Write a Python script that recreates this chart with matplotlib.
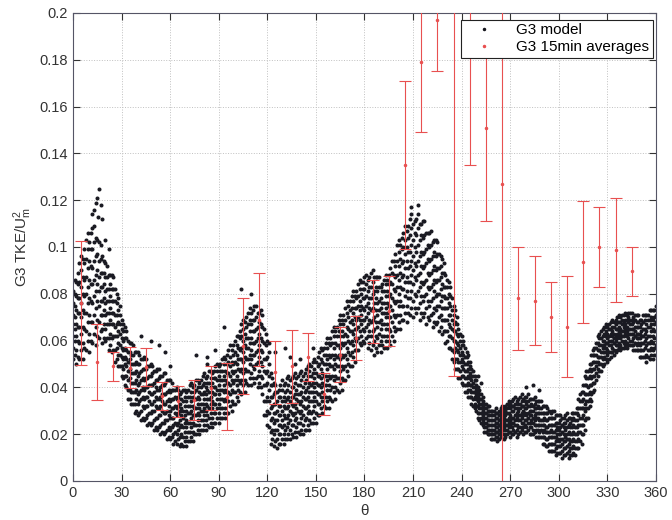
import matplotlib
matplotlib.use("Agg")
import matplotlib.pyplot as plt
from matplotlib.lines import Line2D
from matplotlib.ticker import FuncFormatter

plt.rcParams['font.family'] = ['Liberation Sans', 'DejaVu Sans']
plt.rcParams['mathtext.fontset'] = 'custom'
plt.rcParams['mathtext.rm'] = 'Liberation Sans'
plt.rcParams['mathtext.it'] = 'Liberation Sans'

# ---- G3 model: y values (in 1/1000) for each theta column 0..360 ----
model_theta = list(range(361))
model_cols = [
[52,57,62,67,71,76,81],[54,60,65,70,75,80,86],[50,56,62,67,73,79,85],[53,60,66,72,78,84,89],
[52,59,66,72,78,85,93],[56,63,70,76,83,90,96],[52,59,66,73,80,87,95],[57,65,72,79,86,93,99],
[56,64,72,80,87,95,103],[60,68,76,83,91,99,106],[55,63,71,78,86,94,102],[60,68,77,84,92,99,106],
[59,68,76,84,91,99,108],[63,71,79,86,94,102,109],[58,66,74,81,88,96,104],[62,69,77,84,90,97,103],
[61,68,75,81,87,94,102],[64,71,77,83,89,95,101],[59,65,71,77,83,89,96],[61,67,73,78,84,89,94],
[60,65,71,76,81,87,93],[61,67,72,77,82,87,92],[56,61,67,72,77,82,88],[58,63,69,74,79,84,88],
[55,61,67,72,77,82,88],[56,62,67,72,77,82,87],[51,56,62,66,71,77,82],[52,57,62,67,71,76,80],
[49,54,59,64,68,73,78],[49,54,58,63,67,71,75],[45,49,53,57,61,65,69],[44,48,52,56,60,64,67],
[41,45,50,53,57,61,66],[40,45,49,52,56,61,64],[35,39,43,47,51,55,60],[35,39,44,48,52,55,59],
[33,38,42,46,50,54,59],[33,38,42,46,50,54,58],[29,33,38,42,46,50,55],[30,35,39,43,47,51,55],
[28,33,37,41,45,50,55],[29,34,38,42,46,50,54],[26,30,35,39,43,47,52],[27,32,36,40,44,48,52],
[26,31,35,39,43,48,53],[27,32,36,40,44,48,52],[24,28,32,36,40,44,49],[25,29,34,38,41,45,49],
[24,29,33,37,41,45,50],[25,30,33,37,41,46,49],[22,26,30,34,38,42,47],[23,27,32,36,40,43,47],
[22,27,31,35,39,43,48],[23,28,31,35,39,44,48],[20,24,28,32,36,40,45],[21,25,30,34,37,41,45],
[20,25,29,33,37,41,46],[21,26,29,33,37,42,46],[18,22,26,30,34,38,43],[19,23,28,32,35,39,43],
[18,22,27,30,34,38,43],[19,23,27,31,35,39,42],[16,20,24,27,31,35,39],[17,21,25,29,32,36,39],
[16,20,24,28,31,35,40],[18,22,25,29,32,36,39],[15,19,23,26,30,33,37],[16,20,24,28,31,35,38],
[15,19,23,27,30,34,39],[17,21,25,28,32,36,39],[15,19,23,26,30,34,38],[17,21,25,29,32,36,39],
[17,21,25,29,32,36,41],[19,23,27,30,34,38,42],[17,21,25,28,32,36,40],[20,24,28,31,35,38,41],
[20,24,28,31,35,39,43],[22,26,29,33,36,40,43],[20,24,28,31,35,38,42],[22,26,30,33,37,40,43],
[22,26,30,33,37,41,45],[24,28,31,35,38,42,46],[22,26,30,33,37,40,44],[24,28,32,35,39,42,45],
[23,27,31,35,38,42,47],[25,29,33,36,40,44,47],[23,27,31,34,38,42,46],[25,29,33,37,40,44,47],
[25,29,33,37,40,44,49],[27,31,35,39,43,47,50],[25,29,33,37,41,45,49],[27,31,35,39,43,47,50],
[27,31,35,39,43,47,52],[29,34,38,41,45,50,53],[27,31,35,39,43,47,52],[29,34,38,42,46,50,54],
[29,34,38,42,46,51,56],[32,37,41,45,49,53,58],[30,34,39,43,47,51,56],[33,38,42,46,50,54,58],
[33,38,43,47,51,55,60],[36,41,45,50,54,58,62],[34,39,43,48,52,57,62],[38,42,47,52,56,61,64],
[37,43,48,52,57,62,67],[41,46,51,55,60,65,69],[38,43,48,53,58,63,68],[42,47,52,57,61,66,70],
[41,47,52,57,61,67,72],[44,50,54,59,64,69,74],[41,46,52,56,61,67,72],[44,49,54,59,64,69,73],
[42,48,54,59,64,69,75],[44,50,55,60,65,70,75],[40,45,51,56,61,66,72],[42,47,53,58,63,68,72],
[40,45,51,56,61,67,73],[37,44,49,55,60,66,71],[28,34,41,47,52,59,65],[28,34,41,46,52,58,63],
[24,30,36,42,47,53,60],[23,29,34,39,45,50,55],[16,21,26,31,36,41,46],[18,22,27,32,36,41,44],
[15,20,25,29,33,37,42],[17,22,26,29,33,38,41],[14,18,22,26,30,34,38],[16,20,24,28,32,36,39],
[16,20,24,28,32,36,41],[18,23,26,30,34,39,43],[16,20,24,28,32,36,41],[18,22,27,31,34,38,42],
[18,23,27,31,35,39,44],[20,25,28,32,36,41,45],[18,22,26,30,34,38,43],[20,24,29,33,36,40,44],
[19,24,28,32,36,40,45],[21,26,29,33,37,42,46],[19,23,27,31,35,39,44],[21,25,30,34,37,41,45],
[20,25,29,33,37,41,46],[22,27,30,34,38,43,47],[20,24,28,32,36,40,45],[22,26,31,35,38,42,46],
[22,27,31,35,39,43,48],[24,29,32,36,40,45,49],[22,26,30,34,38,42,47],[25,29,34,38,41,45,49],
[25,30,34,38,42,46,51],[27,32,36,40,44,48,52],[25,29,34,38,42,46,51],[28,33,37,41,45,49,53],
[28,33,37,41,45,50,55],[31,36,40,44,48,52,57],[29,34,38,42,46,51,56],[32,36,41,45,50,54,57],
[31,36,41,45,50,54,59],[34,39,43,48,52,57,61],[31,36,41,45,50,54,59],[35,39,44,49,53,58,61],
[34,40,45,49,54,59,64],[38,43,48,52,57,62,66],[35,40,45,50,54,59,64],[39,44,49,53,58,62,66],
[38,44,49,54,58,64,69],[42,47,52,57,62,67,71],[39,44,49,54,59,64,69],[43,48,53,58,62,67,71],
[43,49,54,59,63,69,74],[47,52,57,62,66,72,77],[45,50,55,60,65,70,75],[49,54,59,64,68,73,77],
[49,55,60,64,69,74,79],[53,58,63,67,72,77,81],[51,56,61,65,70,74,79],[56,60,65,69,74,78,81],
[56,61,66,70,75,79,84],[59,64,69,73,77,82,86],[58,62,67,71,75,80,85],[60,65,69,74,78,82,85],
[59,64,69,73,78,82,87],[61,66,70,75,79,84,88],[57,62,67,72,76,81,86],[59,64,69,74,78,83,87],
[56,62,68,73,78,83,89],[58,64,69,74,80,85,90],[54,60,65,70,76,81,87],[57,62,68,73,78,83,87],
[55,61,66,71,76,81,87],[58,63,68,73,77,83,87],[55,60,65,69,74,78,83],[58,62,67,72,76,81,84],
[57,62,67,72,76,81,86],[60,65,70,74,79,84,88],[57,62,67,72,76,81,86],[60,65,70,75,79,84,88],
[58,64,70,75,80,85,91],[62,68,73,78,84,89,94],[60,66,71,77,82,88,94],[64,70,76,81,87,92,97],
[65,71,77,83,88,94,101],[68,75,80,86,92,98,103],[65,71,77,83,89,95,101],[69,75,82,87,93,99,104],
[69,75,82,88,94,100,106],[72,79,85,91,97,103,109],[68,75,81,87,94,100,107],[72,78,85,91,98,104,109],
[71,78,85,92,98,105,112],[74,81,88,94,101,108,114],[70,77,84,90,96,103,110],[74,80,87,93,100,106,111],
[72,79,86,92,98,105,112],[74,81,88,94,101,108,114],[69,76,83,89,96,103,110],[72,79,85,92,98,105,110],
[70,77,84,91,97,104,111],[72,79,85,92,98,105,111],[67,74,80,86,93,99,106],[70,77,83,89,95,101,106],
[69,75,82,88,94,100,106],[71,77,83,89,95,101,107],[66,72,78,84,90,96,102],[68,74,81,86,92,98,103],
[67,73,79,85,90,96,103],[68,75,80,86,91,97,102],[64,70,75,80,86,91,97],[66,71,77,82,87,92,96],
[63,69,74,79,84,89,95],[64,69,74,79,83,89,93],[59,64,69,74,78,83,88],[60,64,69,74,78,83,86],
[57,62,67,71,76,80,85],[57,62,66,71,75,79,83],[52,56,61,65,69,73,78],[51,55,60,64,67,71,75],
[48,52,57,60,64,68,73],[48,52,56,59,63,67,70],[44,48,51,55,58,62,65],[44,47,51,54,57,60,63],
[42,45,49,52,55,58,62],[41,45,48,51,54,58,60],[38,41,44,47,50,53,57],[38,41,44,47,50,53,55],
[36,39,42,45,48,51,54],[36,39,41,44,46,49,51],[33,36,38,41,43,45,48],[32,35,38,40,42,45,47],
[31,33,36,38,40,43,45],[30,32,35,37,39,41,43],[27,29,32,34,36,38,40],[26,29,31,33,35,37,39],
[25,27,29,31,33,35,37],[24,26,28,30,32,34,36],[21,23,25,27,29,31,33],[21,23,25,27,29,31,33],
[20,22,24,26,28,30,32],[20,22,24,26,28,30,32],[18,20,22,24,26,28,30],[18,20,22,24,26,28,30],
[18,20,22,24,26,28,30],[19,21,23,25,27,29,31],[17,19,21,23,25,27,29],[18,20,22,24,26,28,30],
[19,21,23,25,27,29,31],[20,22,24,26,28,30,32],[18,20,23,25,27,29,31],[19,22,24,26,28,30,32],
[20,22,24,26,29,31,33],[21,23,25,27,29,32,34],[19,21,24,26,28,31,33],[20,23,25,27,30,32,34],
[20,22,25,27,30,32,35],[21,24,26,28,31,33,36],[19,22,24,27,29,31,34],[20,23,26,28,30,33,35],
[21,23,26,28,31,33,36],[22,25,27,29,32,34,37],[20,23,25,28,30,32,35],[21,24,26,29,31,34,36],
[21,23,26,28,31,33,36],[22,25,27,29,32,34,37],[20,23,25,28,30,32,35],[20,23,26,28,30,33,35],
[20,22,25,27,30,32,35],[21,24,26,28,31,33,36],[19,22,24,27,29,31,34],[19,22,24,27,29,32,34],
[19,21,24,26,29,31,34],[19,22,24,26,29,31,34],[16,19,21,24,26,29,32],[16,19,22,24,27,29,32],
[15,18,21,23,26,29,32],[15,18,21,23,26,29,31],[13,16,19,21,24,27,30],[13,16,19,22,24,27,29],
[13,16,19,21,24,27,30],[13,16,19,21,24,27,30],[11,14,17,19,22,25,28],[12,15,18,20,23,25,28],
[12,15,17,20,22,25,28],[12,15,18,20,23,26,28],[10,13,16,18,21,24,27],[11,14,17,20,23,25,27],
[11,14,17,19,22,25,28],[12,15,18,20,23,26,29],[10,13,16,18,21,24,27],[11,14,17,20,23,25,27],
[11,14,17,20,23,26,29],[12,15,18,21,24,27,29],[11,14,17,20,23,26,29],[14,17,20,23,26,29,31],
[14,18,21,24,28,31,35],[17,21,24,27,31,34,37],[16,20,24,27,31,34,38],[20,24,28,31,35,38,41],
[22,26,30,33,37,41,45],[27,31,34,37,41,44,47],[27,31,34,37,40,44,47],[32,35,38,41,45,48,50],
[34,37,41,44,47,50,54],[38,42,45,48,51,54,56],[39,42,45,48,51,54,57],[43,46,49,51,54,57,59],
[45,48,51,53,56,59,62],[47,50,53,56,58,61,63],[47,50,53,55,58,61,64],[49,52,55,57,60,62,65],
[50,53,55,58,60,63,66],[52,55,57,59,62,64,67],[51,54,56,59,61,63,66],[52,55,58,60,62,65,67],
[53,55,58,60,63,65,68],[55,57,60,62,64,66,69],[54,56,59,61,63,66,68],[55,58,60,62,65,67,69],
[56,58,61,63,65,68,70],[57,59,62,64,66,68,71],[56,58,61,63,65,68,70],[57,60,62,64,67,69,71],
[57,59,62,64,66,68,71],[58,60,63,65,67,69,72],[57,59,62,64,66,69,71],[58,61,63,65,68,70,72],
[58,60,63,65,67,69,72],[58,60,63,65,67,69,72],[56,58,61,63,65,68,70],[56,59,62,64,66,69,71],
[56,58,61,63,66,68,71],[56,59,61,63,66,68,71],[53,56,58,61,63,66,69],[53,56,59,62,64,67,69],
[53,56,59,62,65,68,71],[53,57,60,63,65,69,71],[51,54,58,61,64,67,71],[53,56,59,62,66,69,71],
[52,56,59,62,66,69,73],[54,57,60,64,67,70,73],[52,56,59,62,65,69,73],[54,57,61,64,67,70,73],
[54,58,61,64,68,71,75],
]

# sparse model points outside the main band
outlier_theta = [12, 13, 14, 15, 15.5, 16, 17, 18, 20, 22, 42, 48, 53, 57, 60,
                 76, 83, 82.5, 87.5, 93, 103.5, 110, 121, 125, 131, 134, 137, 140,
                 146, 148, 209, 213, 250, 252, 280, 284, 288]
outlier_val = [114, 116, 119, 121, 113, 125, 118, 112, 103, 99, 62, 60, 58, 55, 49,
               54, 50, 53, 56, 66, 82, 80, 59, 55, 57, 53, 50, 52,
               50, 57, 117, 118, 45, 42, 40, 41, 39]

# ---- G3 15min averages (mean and error half-width) ----
avg_theta = [5, 15, 25, 35, 45, 55, 65, 75, 85, 95, 105, 115, 125, 135, 145, 155, 165,
             175, 185, 195, 205, 215, 225, 235, 245, 255, 265, 275, 285, 295, 305,
             315, 325, 335, 345]
avg_val = [0.076, 0.051, 0.049, 0.0485, 0.0486, 0.0365, 0.034, 0.0345, 0.0397, 0.036,
           0.0575, 0.069, 0.0465, 0.049, 0.053, 0.037, 0.054, 0.061, 0.0725, 0.0725,
           0.135, 0.179, 0.197, 0.24, 0.22, 0.151, 0.127, 0.078, 0.077, 0.070, 0.066,
           0.0935, 0.0999, 0.0988, 0.0896]
avg_err = [0.0265, 0.0162, 0.0062, 0.0088, 0.0082, 0.006, 0.0067, 0.0085, 0.0093, 0.0143,
           0.0205, 0.020, 0.0135, 0.0155, 0.0104, 0.009, 0.0117, 0.0095, 0.0135, 0.015,
           0.036, 0.03, 0.022, 0.195, 0.085, 0.040, 0.128, 0.022, 0.019, 0.015, 0.0215,
           0.026, 0.0171, 0.0221, 0.0105]

xticks = list(range(0, 361, 30))
yticks = [0, 0.02, 0.04, 0.06, 0.08, 0.1, 0.12, 0.14, 0.16, 0.18, 0.2]

mx, my = [], []
for th, col in zip(model_theta, model_cols):
    for v in col:
        mx.append(th)
        my.append(v / 1000.0)
for th, v in zip(outlier_theta, outlier_val):
    mx.append(th)
    my.append(v / 1000.0)

fig = plt.figure(figsize=(6.72, 5.2), dpi=100)
ax = fig.add_axes([0.1086, 0.075, 0.8676, 0.9])

red = '#e85050'
ax.plot(mx, my, 'o', ms=2.9, mew=0, color='#1a1a22', zorder=2)
ax.errorbar(avg_theta, avg_val, yerr=avg_err, fmt='.', color=red, ms=3,
            ecolor=red, elinewidth=0.8, capsize=4, capthick=0.8, zorder=3)

ax.set_xlim(0, 360)
ax.set_ylim(0, 0.2)
ax.set_xticks(xticks)
ax.set_yticks(yticks)
ax.yaxis.set_major_formatter(FuncFormatter(lambda v, p: '%g' % round(v, 3)))
ax.grid(True, linestyle=':', color='#c0c0c0', linewidth=0.7)
ax.set_axisbelow(True)
ax.tick_params(direction='in', top=True, right=True, length=5, labelsize=10.5,
               colors='#333333')
for s in ax.spines.values():
    s.set_color('#555566')
    s.set_linewidth(0.8)

ax.set_xlabel(r'$\mathregular{\theta}$', fontsize=11, color='#333333', labelpad=2)
ax.set_ylabel(r'G3 TKE/U$_m^2$', fontsize=11, color='#333333', labelpad=4)

handles = [Line2D([], [], marker='.', ls='none', color='#15151c', ms=3),
           Line2D([], [], marker='.', ls='none', color=red, ms=3)]
leg = ax.legend(handles, ['G3 model', 'G3 15min averages'], loc='upper right',
                bbox_to_anchor=(0.994, 0.986), fontsize=11, fancybox=False,
                framealpha=1, edgecolor='#222222', borderpad=0.25,
                handletextpad=0.8, handlelength=2.5, labelspacing=0.2,
                borderaxespad=0)
leg.get_frame().set_linewidth(0.8)

fig.savefig('out.png', dpi=100)
